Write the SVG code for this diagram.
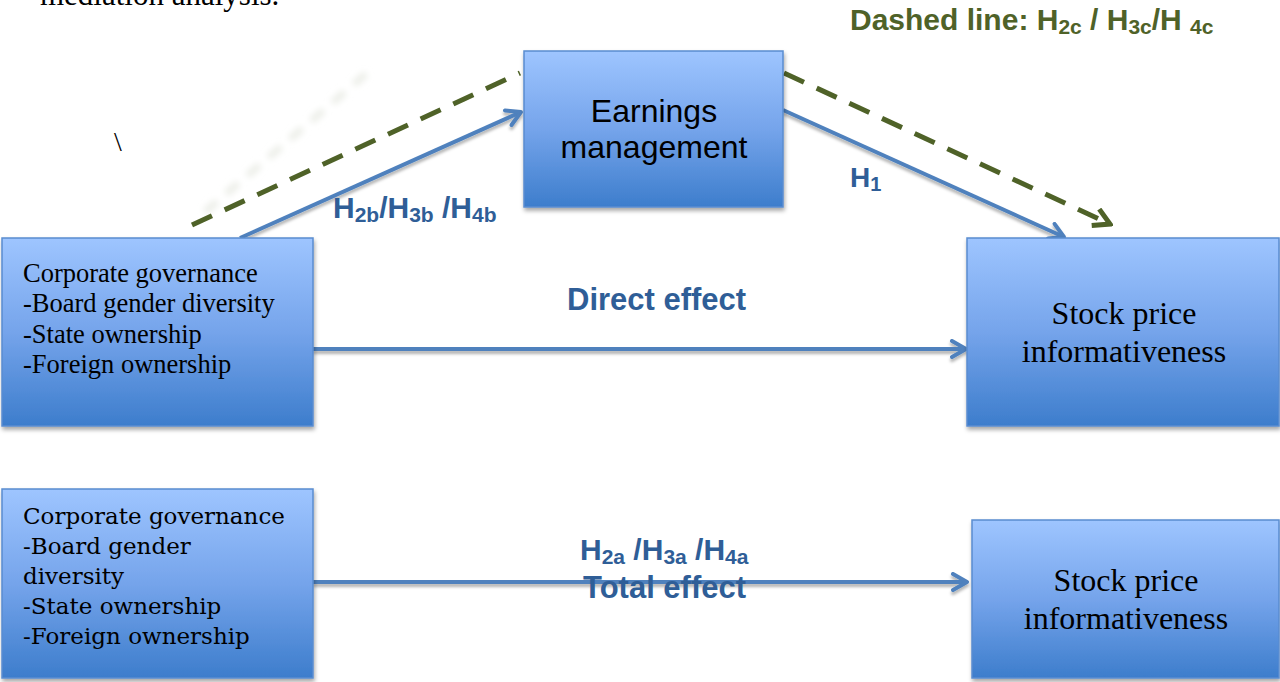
<svg xmlns="http://www.w3.org/2000/svg" width="1280" height="682" viewBox="0 0 1280 682">
<style>
.box{fill:url(#boxg);stroke:#5a8cd0;stroke-width:1.5;filter:url(#shadow)}
.serif{font-family:"Liberation Serif","Times New Roman",serif;fill:#000}
.geo{font-family:"DejaVu Serif","Liberation Serif",serif;fill:#000}
.sans{font-family:"Liberation Sans",Arial,sans-serif;fill:#000}
.lbl{font-family:"Liberation Sans",Arial,sans-serif;font-weight:bold;fill:#2f5e97}
.glbl{font-family:"Liberation Sans",Arial,sans-serif;font-weight:bold;fill:#4f6228}
.blue{stroke:#4f81bd;stroke-width:4;fill:none;filter:url(#lshadow)}
.green{stroke:#4f6228;stroke-width:5;fill:none;stroke-dasharray:22 14}
</style>
<defs>
<linearGradient id="boxg" x1="0" y1="0" x2="0" y2="1">
<stop offset="0" stop-color="#9ec5ff"/>
<stop offset="0.5" stop-color="#75a4eb"/>
<stop offset="1" stop-color="#3d7dcc"/>
</linearGradient>
<filter id="shadow" x="-10%" y="-10%" width="125%" height="125%">
<feDropShadow dx="1" dy="3" stdDeviation="2" flood-color="#000" flood-opacity="0.35"/>
</filter>
<filter id="lshadow" filterUnits="userSpaceOnUse" x="0" y="0" width="1280" height="682">
<feDropShadow dx="0" dy="3" stdDeviation="1.5" flood-color="#000" flood-opacity="0.3"/>
</filter>
<filter id="blur" filterUnits="userSpaceOnUse" x="0" y="0" width="1280" height="682"><feGaussianBlur stdDeviation="3"/></filter>
<marker id="ab" viewBox="0 0 20 20" refX="17" refY="10" markerUnits="userSpaceOnUse" markerWidth="20" markerHeight="20" orient="auto">
<path d="M3,2 L17,10 L3,18" stroke="#4f81bd" stroke-width="4" fill="none" stroke-linecap="round" stroke-linejoin="round"/>
</marker>
<marker id="ag" viewBox="0 0 22 22" refX="19" refY="11" markerUnits="userSpaceOnUse" markerWidth="22" markerHeight="22" orient="auto">
<path d="M3,2 L19,11 L3,20" stroke="#4f6228" stroke-width="5" fill="none" stroke-linejoin="miter"/>
</marker>
</defs>
<rect width="1280" height="682" fill="#fff"/>
<text class="serif" x="40" y="5" font-size="31">mediation analysis.</text>
<text class="serif" x="114" y="151" font-size="28">\</text>
<g id="connectors">
<line x1="205" y1="212" x2="366" y2="74" stroke="#eceee8" stroke-width="7" stroke-dasharray="16 12" filter="url(#blur)"/>
<line class="green" x1="192" y1="225" x2="520" y2="73"/>
<line class="green" x1="784" y1="73" x2="1110" y2="224" marker-end="url(#ag)"/>
<line class="blue" x1="240" y1="238" x2="521" y2="112" marker-end="url(#ab)"/>
<line class="blue" x1="783" y1="110" x2="1064" y2="237" marker-end="url(#ab)"/>
<line class="blue" x1="313" y1="349" x2="966" y2="349" marker-end="url(#ab)"/>
<line class="blue" x1="313" y1="582" x2="967" y2="582" marker-end="url(#ab)"/>
</g>
<g id="node-cg1">
<rect class="box" x="2" y="238" width="311" height="188"/>
<text class="serif" font-size="26.5"><tspan x="23" y="282">Corporate governance</tspan><tspan x="23" y="312">-Board gender diversity</tspan><tspan x="23" y="343">-State ownership</tspan><tspan x="23" y="373">-Foreign ownership</tspan></text>
</g>
<g id="node-em">
<rect class="box" x="524" y="51" width="259" height="156"/>
<text class="sans" font-size="32" text-anchor="middle"><tspan x="654" y="122">Earnings</tspan><tspan x="654" y="158">management</tspan></text>
</g>
<g id="node-spi1">
<rect class="box" x="967" y="238" width="312" height="188"/>
<text class="serif" font-size="32" text-anchor="middle"><tspan x="1124" y="324">Stock price</tspan><tspan x="1124" y="362">informativeness</tspan></text>
</g>
<g id="node-cg2">
<rect class="box" x="2" y="489" width="311" height="189"/>
<text class="geo" font-size="23"><tspan x="23" y="524">Corporate governance</tspan><tspan x="23" y="554">-Board gender</tspan><tspan x="23" y="584">diversity</tspan><tspan x="23" y="614">-State ownership</tspan><tspan x="23" y="644">-Foreign ownership</tspan></text>
</g>
<g id="node-spi2">
<rect class="box" x="972" y="520" width="307" height="158"/>
<text class="serif" font-size="32" text-anchor="middle"><tspan x="1126" y="591">Stock price</tspan><tspan x="1126" y="629">informativeness</tspan></text>
</g>
<g id="labels">
<text class="glbl" x="850" y="30" font-size="30">Dashed line: H<tspan font-size="21" dy="4">2c</tspan><tspan dy="-4"> / H</tspan><tspan font-size="21" dy="4">3c</tspan><tspan dy="-4">/H </tspan><tspan font-size="21" dy="4">4c</tspan></text>
<text class="lbl" x="333" y="218" font-size="30">H<tspan font-size="21" dy="4">2b</tspan><tspan dy="-4">/H</tspan><tspan font-size="21" dy="4">3b</tspan><tspan dy="-4"> /H</tspan><tspan font-size="21" dy="4">4b</tspan></text>
<text class="lbl" x="850" y="187" font-size="28">H<tspan font-size="20" dy="4">1</tspan></text>
<text class="lbl" x="567" y="310" font-size="31">Direct effect</text>
<text class="lbl" x="580" y="560" font-size="30">H<tspan font-size="21" dy="4">2a</tspan><tspan dy="-4"> /H</tspan><tspan font-size="21" dy="4">3a</tspan><tspan dy="-4"> /H</tspan><tspan font-size="21" dy="4">4a</tspan></text>
<text class="lbl" x="583" y="598" font-size="31">Total effect</text>
</g>
</svg>
